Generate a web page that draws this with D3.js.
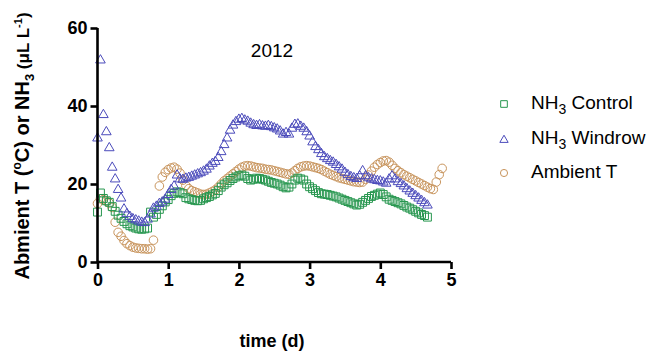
<!DOCTYPE html>
<html><head><meta charset="utf-8">
<script src="https://cdn.jsdelivr.net/npm/d3@7"></script>
<style>
body{margin:0;background:#fff;}
text{font-family:Arial,"Liberation Sans",Helvetica,sans-serif;}
</style></head>
<body><svg id="c" width="649" height="352"></svg>
<script>
// hourly readings (t = index / 24 days)
const windrow = [32,52,38,33.6,29.5,24.5,21.5,18.8,16.6,13.8,12.6,11.9,11.3,11,10.7,10.4,10.3,11.2,12.5,14,14.5,15.2,15.6,16.3,17.5,18.8,19.7,22.5,21.5,21.4,21.7,21.9,22.2,22.5,22.8,23.1,23.5,24,24.8,25.5,26,27,28.5,30.3,32,34,35.3,36.2,36.8,37,36.6,36.3,35.8,35.4,35.2,35.4,35.1,35,35.2,34.9,34.6,34.3,33.8,33,33.4,33,34.5,35.5,35.6,35,34.5,33.6,32.5,31,29.8,29,28,27.2,26.7,26.2,25.8,25.2,24.6,24,23.2,22.6,22.1,21.8,21.6,22.3,23.6,22.3,21.8,21.5,21.3,21.1,21,20.7,20.4,21.5,22.3,21.5,20.8,20.3,19.7,19,18.4,17.8,17.2,16.6,16,15.4,14.8];
const control = [12.8,17.7,16.3,15.7,15.3,14.2,13,12,11.2,10.4,9.8,9.3,9,8.7,8.5,8.4,8.5,8.7,12.8,11.5,12.2,13.5,14.4,15.4,16,17,17.6,18,17.8,17.5,16.5,16.2,16,15.8,15.7,15.8,16.2,16.5,16.8,17.2,17.6,18.3,19.2,19.8,20.3,20.9,21.4,21.8,22.1,22.3,22,21.4,21,21.2,21.5,21.4,21.2,21,20.7,20.4,20.2,20,19.7,19.3,19,19.2,20,21,21.5,21.3,21,20,19.3,18.8,18.3,17.8,17.5,17.4,17.3,17.1,16.9,16.7,16.4,16.1,15.8,15.5,15.2,14.9,14.6,14.8,15.3,15.8,16.3,16.8,17.1,17.4,17.7,17.3,16.7,16.1,15.8,15.5,15.2,14.9,14.5,14.1,13.8,13.4,13,12.6,12.2,11.9,11.5];
const ambient = [15,16.2,16,15.6,15.1,14,10.2,7.6,6.6,5.5,4.7,4.2,3.8,3.6,3.5,3.4,3.4,3.3,3.4,5.6,null,19.5,21.8,23,23.7,24.1,24.3,23.8,22.8,21,19.6,18.8,18.3,18,17.7,17.4,17.3,17.4,17.7,18.1,18.5,19.2,20,20.8,21.4,22,22.6,23.2,23.8,24.3,24.6,24.7,24.6,24.4,24.2,24.1,24,23.8,23.7,23.6,23.4,23.2,23,22.8,22.6,22.5,22.8,23.4,24,24.4,24.6,24.7,24.6,24.4,24.2,24,23.7,23.3,22.9,22.5,22.2,21.9,21.6,21.4,21.2,21,20.8,20.6,20.5,20.4,20.5,21.2,22.3,23.3,24.3,25,25.5,25.9,26,25.6,24.8,24,23.4,22.9,22.4,22,21.6,21.2,20.8,20.4,20,19.6,19.2,18.8,18.6,20.5,22.4,24];
const xTicks = [0,1,2,3,4,5];
const yTicks = [0,20,40,60];
const colors = {control:"#26964e", windrow:"#4b4bbb", ambient:"#c8945c"};

const svg = d3.select("#c");
const x = d3.scaleLinear().domain([0,5]).range([97.5,451]);
const y = d3.scaleLinear().domain([0,60]).range([262,28]);

function pts(arr){ return arr.map((v,i)=>({t:i/24,v})).filter(d=>d.v!==null); }

const sq = d3.symbol().type(d3.symbolSquare).size(62);
const tri = d3.symbol().type(d3.symbolTriangle).size(40);
const circ = d3.symbol().type(d3.symbolCircle).size(58);

function draw(arr, sym, col, dy){
  svg.append("g").selectAll("path").data(pts(arr)).join("path")
    .attr("d", sym)
    .attr("transform", d=>`translate(${x(d.t)},${y(d.v)+(dy||0)})`)
    .attr("fill","none").attr("stroke",col).attr("stroke-width",1);
}
draw(ambient, circ, colors.ambient);
draw(control, sq, colors.control);
draw(windrow, tri, colors.windrow, 1);

// axes
const xa = svg.append("g").attr("transform","translate(0,262)")
  .call(d3.axisBottom(x).tickValues(xTicks).tickFormat(d3.format("d")).tickSize(7).tickPadding(4));
const ya = svg.append("g").attr("transform","translate(97.5,0)")
  .call(d3.axisLeft(y).tickValues(yTicks).tickSize(7).tickPadding(3));
[xa,ya].forEach(a=>{
  a.selectAll("path").attr("stroke","#000").attr("stroke-width",2.6);
  a.selectAll("line").attr("stroke","#000").attr("stroke-width",2.6);
  a.selectAll("text").attr("fill","#000").attr("font-size",18).attr("font-weight","bold")
   .style("font-family","Arial, 'Liberation Sans', sans-serif");
});
xa.select(".domain").attr("d","M97.5,0H451");
ya.select(".domain").attr("d","M0,262V28");

// title
svg.append("text").attr("x",272).attr("y",57).attr("text-anchor","middle")
  .attr("font-size",19).text("2012");

// x label
svg.append("text").attr("x",272).attr("y",347).attr("text-anchor","middle")
  .attr("font-size",18).attr("font-weight","bold").text("time (d)");

// y label
const yl = svg.append("text").attr("transform","translate(29,146) rotate(-90)")
  .attr("text-anchor","middle").attr("font-size",20).attr("font-weight","bold");
yl.append("tspan").text("Abmient T (");
yl.append("tspan").attr("font-size",12).attr("dy",-8).text("o");
yl.append("tspan").attr("dy",8).text("C) or NH");
yl.append("tspan").attr("font-size",13).attr("dy",5).text("3");
yl.append("tspan").attr("dy",-5).attr("font-size",17).text(" (μL L");
yl.append("tspan").attr("font-size",11).attr("dy",-7).text("-1");
yl.append("tspan").attr("dy",7).attr("font-size",17).text(")");

// legend
const leg = [
  {name:"NH", sub:"3", rest:" Control", type:d3.symbolSquare, size:44, col:colors.control, yy:109, my:104},
  {name:"NH", sub:"3", rest:" Windrow", type:d3.symbolTriangle, size:30, col:colors.windrow, yy:143.5, my:140},
  {name:"Ambient T", sub:"", rest:"", type:d3.symbolCircle, size:40, col:colors.ambient, yy:178, my:173}
];
leg.forEach(l=>{
  svg.append("path").attr("d", d3.symbol().type(l.type).size(l.size)())
    .attr("transform",`translate(504,${l.my})`).attr("fill","none").attr("stroke",l.col).attr("stroke-width",1);
  const t = svg.append("text").attr("x",531).attr("y",l.yy).attr("font-size",19);
  t.append("tspan").text(l.name);
  if(l.sub){ t.append("tspan").attr("font-size",14).attr("dy",5).text(l.sub);
    t.append("tspan").attr("dy",-5).text(l.rest); }
});
</script></body></html>
